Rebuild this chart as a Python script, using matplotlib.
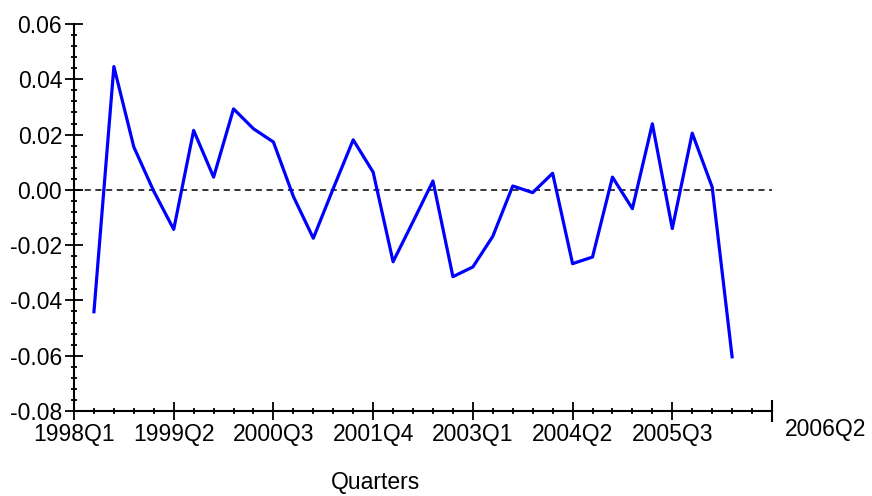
import numpy as np
import matplotlib.pyplot as plt
from matplotlib.ticker import MultipleLocator, FixedLocator, FixedFormatter

plt.rcParams['font.family'] = ['Liberation Sans', 'DejaVu Sans']

# quarter index 0 = 1998Q1; series runs 1998Q2 .. 2006Q2
quarter_idx = np.arange(1, 34)
values = [-0.0441, 0.0446, 0.0155, -0.0005, -0.0143, 0.0215, 0.0046, 0.0293,
          0.0221, 0.0173, -0.0024, -0.0175, 0.0005, 0.0181, 0.0064, -0.0260,
          -0.0115, 0.0032, -0.0314, -0.0279, -0.0168, 0.0014, -0.0010, 0.0060,
          -0.0267, -0.0243, 0.0046, -0.0068, 0.0239, -0.0140, 0.0205, 0.0010,
          -0.0604]
major_pos = [0, 5, 10, 15, 20, 25, 30]
major_labels = ['1998Q1', '1999Q2', '2000Q3', '2001Q4', '2003Q1', '2004Q2', '2005Q3']
end_label = '2006Q2'

fig = plt.figure(figsize=(8.72, 4.96), dpi=100)
ax = fig.add_axes([74/872, 1-411/496, (772-74)/872, (411-24)/496])

ax.plot(quarter_idx, values, color='#0000ff', lw=2.3, zorder=3)
ax.axhline(0, color='black', lw=1.1, ls=(0, (4, 3)), zorder=2)

ax.set_xlim(0, 35)
ax.set_ylim(-0.08, 0.06)

ax.xaxis.set_major_locator(FixedLocator(major_pos))
ax.xaxis.set_major_formatter(FixedFormatter(major_labels))
ax.xaxis.set_minor_locator(MultipleLocator(1))
ax.yaxis.set_major_locator(MultipleLocator(0.02))
ax.yaxis.set_minor_locator(MultipleLocator(0.004))
ax.yaxis.set_major_formatter(plt.FuncFormatter(lambda v, p: f'{v:.2f}'))

ax.tick_params(which='major', direction='inout', length=13, width=1.3,
               labelsize=16.5, pad=2)
ax.tick_params(which='minor', direction='inout', length=5, width=1.3)
ax.tick_params(axis='x', which='major', pad=2)

for s in ['top', 'right']:
    ax.spines[s].set_visible(False)
for s in ['left', 'bottom']:
    ax.spines[s].set_linewidth(1.5)

# closing tick at the right end of the axis, with the last-period label beyond it
ax.axvline(35, ymin=-0.025, ymax=0.025, color='black', lw=1.5, clip_on=False)
ax.text(37.7, -0.0825, end_label, fontsize=16.5, ha='center', va='top')

fig.text(375/872, 1-483/496, 'Quarters', fontsize=16.5, ha='center', va='center')

fig.savefig('out.png', dpi=100)
